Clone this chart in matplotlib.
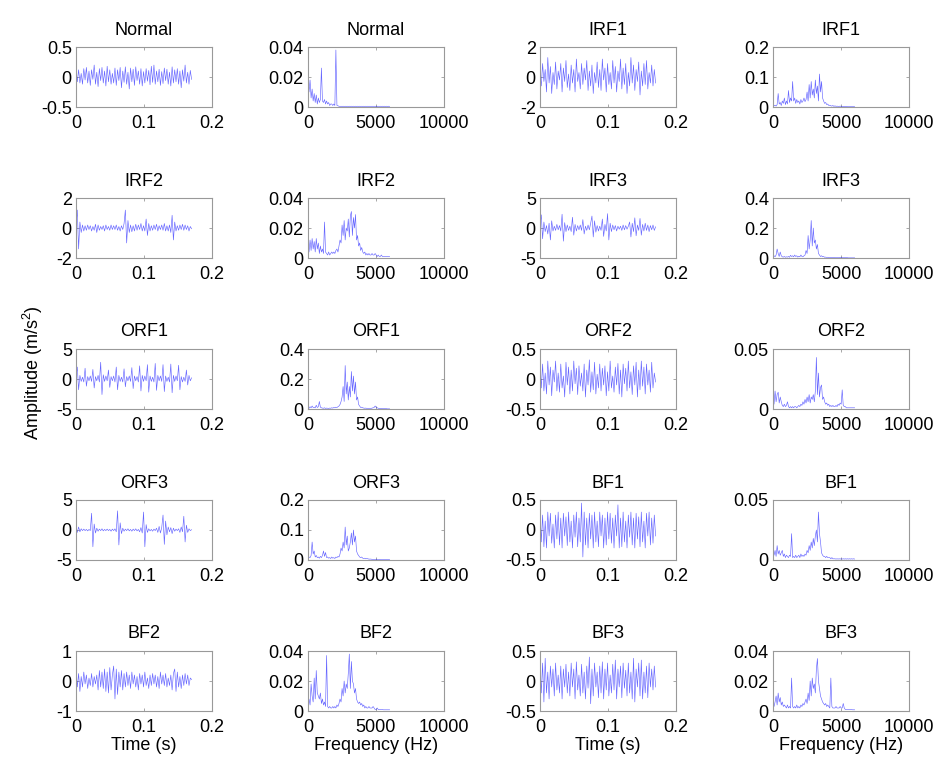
import numpy as np
import matplotlib
matplotlib.use("Agg")
import matplotlib.pyplot as plt
from matplotlib.ticker import FormatStrFormatter

plt.rcParams['font.family'] = ['Liberation Sans', 'DejaVu Sans']
plt.rcParams['mathtext.fontset'] = 'custom'
plt.rcParams['mathtext.rm'] = 'Liberation Sans'
plt.rcParams['axes.unicode_minus'] = False

# record length and spectrum band shown
t_end = 0.17
f_end = 6000

# --- time-domain signals (m/s^2) ---
normal_time = [0.10,-0.08,0.12,-0.10,0.06,-0.12,0.14,-0.05,0.16,-0.10,0.10,-0.14,0.12,-0.04,0.20,-0.12,0.08,-0.16,0.14,-0.06,
               0.16,-0.10,0.10,-0.15,0.18,-0.08,0.12,-0.12,0.06,-0.10,0.15,-0.14,0.12,-0.06,0.16,-0.18,0.10,-0.09,0.17,-0.12,
               0.08,-0.20,0.15,-0.08,0.13,-0.14,0.17,-0.06,0.10,-0.12,0.14,-0.15,0.09,-0.10,0.14,-0.07,0.11,-0.13,0.18,-0.09,
               0.20,-0.12,0.10,-0.08,0.13,-0.14,0.09,-0.11,0.15,-0.06,0.13,-0.12,0.08,-0.15,0.17,-0.10,0.12,-0.08,0.14,-0.12,
               0.10,-0.18,0.12,-0.07,0.20,-0.10,0.08,-0.12,0.11,-0.04]
irf1_time = [0.2,-0.6,0.9,-0.3,0.5,-1.0,1.3,-0.4,0.7,-1.1,0.3,-0.5,1.0,-0.8,0.4,-0.2,0.9,-1.0,0.6,-0.3,
             1.1,-0.7,0.2,-0.9,0.8,-0.4,0.5,-1.0,1.2,-0.3,0.3,-0.8,0.9,-0.5,0.6,-0.2,1.1,-0.9,0.4,-0.6,
             0.8,-1.1,0.3,-0.4,1.0,-0.7,0.5,-0.9,1.2,-0.2,0.6,-1.0,0.9,-0.5,0.3,-0.8,1.1,-0.4,0.7,-1.0,
             0.4,-0.3,1.2,-0.8,0.6,-0.5,0.9,-1.1,0.3,-0.6,1.3,-0.4,0.8,-0.9,0.5,-0.3,1.0,-1.2,0.4,-0.6,
             0.9,-0.5,1.1,-0.8,0.3,-0.4,0.8,-0.6,0.5,-0.4]
irf2_time = [0.1,1.2,-1.4,0.4,-0.3,0.2,-0.2,0.15,-0.15,0.2,-0.1,0.15,-0.2,0.1,-0.15,0.25,-0.3,0.2,-0.15,0.1,
             -0.1,0.15,-0.2,0.2,-0.1,0.1,-0.15,0.2,-0.1,0.15,-0.1,0.2,-0.15,0.1,-0.2,0.15,-0.1,0.3,1.2,-1.0,
             0.5,-0.3,0.2,-0.25,0.15,-0.2,0.25,-0.15,0.2,-0.1,0.3,-0.2,0.15,-0.2,0.6,-0.5,0.3,-0.2,0.15,-0.15,
             0.2,-0.1,0.25,-0.2,0.15,-0.1,0.2,-0.15,0.3,-0.2,0.15,-0.2,0.2,-0.3,0.85,-0.8,0.4,-0.2,0.15,-0.15,
             0.2,-0.1,0.25,-0.15,0.2,-0.1,0.15,-0.2,0.1,-0.05]
irf3_time = [0.3,2.2,-1.8,1.0,-0.6,0.4,-1.0,0.8,-2.0,1.2,-0.5,0.3,-0.4,0.6,-0.3,0.4,-0.5,2.3,-2.2,0.9,
             -0.6,0.5,-0.4,0.3,-0.6,1.8,-1.2,0.6,-0.5,0.4,-0.3,0.5,-0.4,1.4,-1.0,0.3,-0.4,0.5,-0.3,0.8,
             2.0,-1.5,1.2,-0.7,0.4,-0.5,0.3,-0.4,1.5,-1.4,0.6,-0.5,2.4,-2.0,0.8,-0.6,0.5,-0.3,0.4,-0.5,
             0.3,-0.2,0.3,-0.4,0.5,-0.3,0.4,-0.2,0.3,1.0,-1.5,0.8,-0.6,1.7,-1.3,0.5,-0.4,1.6,-1.2,0.6,
             -0.5,0.8,-0.4,0.5,-0.6,0.4,-0.3,0.5,-0.4,0.2]
orf1_time = [0.3,2.0,-1.8,0.6,-0.4,0.3,-0.5,1.8,-1.2,0.4,-0.3,0.5,-0.4,1.6,-1.5,0.4,-0.3,0.6,-0.5,2.8,
             -2.6,0.7,-0.4,0.5,-0.3,1.5,-1.4,0.4,-0.3,0.5,-0.5,2.0,-1.8,0.6,-0.4,0.3,-0.5,1.7,-1.3,0.4,
             -0.3,0.5,-0.4,1.9,-1.6,0.5,-0.3,0.4,-0.5,2.2,-2.0,0.6,-0.4,0.5,-0.3,2.4,-2.2,0.5,-0.4,0.3,
             -0.5,2.6,-1.9,0.6,-0.3,0.5,-0.4,2.4,-2.1,0.5,-0.4,0.3,-0.5,2.5,-2.3,0.6,-0.4,0.5,-0.3,2.3,
             -1.8,0.4,-0.5,0.3,-0.4,1.5,-1.0,0.6,-0.3,0.2]
orf2_time = [0.2,-0.15,0.25,-0.2,0.1,-0.25,0.3,-0.1,0.2,-0.28,0.15,-0.05,0.3,-0.2,0.1,-0.22,0.25,-0.15,0.05,-0.3,
             0.28,-0.1,0.2,-0.25,0.15,-0.2,0.3,-0.08,0.18,-0.26,0.22,-0.12,0.1,-0.2,0.25,-0.3,0.15,-0.1,0.32,-0.22,
             0.12,-0.18,0.28,-0.25,0.08,-0.15,0.25,-0.2,0.18,-0.1,0.22,-0.28,0.12,-0.2,0.3,-0.15,0.05,-0.22,0.2,-0.1,
             0.26,-0.25,0.15,-0.3,0.25,-0.08,0.18,-0.2,0.3,-0.15,0.12,-0.26,0.22,-0.1,0.28,-0.3,0.15,-0.18,0.3,-0.12,
             0.2,-0.25,0.25,-0.1,0.15,-0.22,0.28,-0.15,0.1,-0.05]
orf3_time = [0.1,-0.4,0.5,-0.3,0.2,-0.1,0.15,-0.1,0.1,-0.15,0.1,-0.1,2.8,-2.8,1.0,-0.5,0.3,-0.2,0.15,-0.1,
             0.2,-0.15,0.1,-0.1,0.15,-0.1,0.1,-0.2,0.15,-0.1,0.2,-0.3,3.2,-2.5,1.2,-0.6,0.3,-0.2,0.15,-0.1,
             0.2,-0.15,0.1,-0.2,0.15,-0.1,0.2,-0.15,0.1,-0.3,0.4,-0.5,3.0,-2.8,0.9,-0.4,0.2,-0.15,0.1,-0.2,
             0.15,-0.1,0.3,-0.4,0.6,-0.5,0.4,2.5,-2.4,1.5,-0.8,0.5,-0.3,0.4,-0.6,0.3,-0.2,0.15,-0.1,0.2,
             -0.4,0.5,-0.3,2.3,-2.0,0.8,-0.4,0.2,-0.1,0.05]
bf1_time = [0.3,-0.2,0.25,-0.28,0.15,-0.3,0.3,-0.1,0.28,-0.22,0.1,-0.3,0.25,-0.15,0.3,-0.25,0.2,-0.3,0.28,-0.1,
            0.22,-0.26,0.3,-0.2,0.15,-0.3,0.25,-0.12,0.3,-0.28,0.2,-0.2,0.45,-0.45,0.3,-0.25,0.2,-0.3,0.28,-0.15,
            0.25,-0.3,0.3,-0.2,0.15,-0.28,0.3,-0.1,0.25,-0.3,0.2,-0.25,0.3,-0.15,0.28,-0.22,0.2,-0.3,0.25,-0.1,
            0.42,-0.3,0.2,-0.28,0.3,-0.2,0.15,-0.3,0.25,-0.12,0.3,-0.25,0.2,-0.3,0.28,-0.15,0.22,-0.28,0.3,-0.2,
            0.15,-0.3,0.28,-0.1,0.3,-0.25,0.2,-0.22,0.25,-0.1]
bf2_time = [0.3,-0.2,0.25,-0.35,0.15,-0.2,0.3,-0.1,0.2,-0.25,0.1,-0.15,0.25,-0.2,0.15,-0.1,0.2,-0.3,0.35,-0.2,
            0.3,-0.25,0.4,-0.35,0.3,-0.4,0.45,-0.3,0.2,0.5,-0.6,0.4,-0.45,0.3,-0.2,0.35,-0.3,0.25,-0.2,0.3,
            -0.15,0.2,-0.25,0.3,-0.1,0.2,-0.2,0.15,-0.3,0.25,-0.1,0.2,-0.2,0.3,-0.15,0.1,-0.25,0.2,-0.15,0.25,
            -0.1,0.2,-0.2,0.15,-0.25,0.3,-0.1,0.2,-0.15,0.25,-0.2,0.1,-0.15,0.2,-0.3,0.25,0.4,-0.35,0.3,-0.2,
            0.15,-0.25,0.2,-0.15,0.25,-0.1,0.2,-0.15,0.1,0.05]
bf3_time = [0.25,-0.2,0.3,-0.35,0.38,-0.2,0.15,-0.3,0.25,-0.1,0.2,-0.25,0.3,-0.15,0.1,-0.2,0.25,-0.3,0.2,-0.1,
            0.28,-0.2,0.15,-0.25,0.3,-0.1,0.2,-0.3,0.32,-0.15,0.1,-0.25,0.28,-0.2,0.15,-0.3,0.25,-0.12,0.4,-0.38,
            0.2,-0.25,0.3,-0.1,0.15,-0.28,0.25,-0.2,0.32,-0.3,0.2,-0.15,0.3,-0.25,0.1,-0.2,0.28,-0.15,0.35,-0.3,
            0.2,-0.1,0.25,-0.28,0.3,-0.12,0.18,-0.25,0.3,-0.2,0.15,-0.3,0.38,-0.35,0.2,-0.1,0.3,-0.25,0.35,-0.3,
            0.15,-0.2,0.25,-0.28,0.3,-0.1,0.2,-0.15,0.25,-0.1]

# --- amplitude spectra, 0 .. f_end Hz ---
normal_spec = [0.020,0.010,0.018,0.006,0.012,0.004,0.009,0.003,0.008,0.002,
               0.006,0.003,0.005,0.026,0.004,0.003,0.005,0.002,0.004,0.002,
               0.003,0.001,0.002,0.002,0.001,0.002,0.001,0.038,0.001,0.0008,
               0.0005,0.0004,0.0005,0.0004,0.0005,0.0004,0.0005,0.0004,0.0005,0.0004,
               0.0005,0.0004,0.0005,0.0004,0.0005,0.0004,0.0005,0.0004,0.0005,0.0004,
               0.0005,0.0004,0.0005,0.0004,0.0005,0.0004,0.0005,0.0004,0.0005,0.0004,
               0.0005,0.0004,0.0005,0.0004,0.0005,0.0004,0.0005,0.0004,0.0005,0.0004,
               0.0005,0.0004,0.0005,0.0004,0.0005,0.0004,0.0005,0.0004,0.0005,0.0004]
irf1_spec = [0.010,0.004,0.006,0.003,0.008,0.045,0.010,0.015,0.005,0.020,
             0.012,0.030,0.008,0.020,0.010,0.055,0.015,0.030,0.020,0.085,
             0.020,0.030,0.012,0.025,0.015,0.020,0.010,0.025,0.015,0.020,
             0.030,0.018,0.025,0.050,0.020,0.075,0.030,0.085,0.040,0.060,
             0.030,0.090,0.045,0.070,0.020,0.110,0.050,0.085,0.030,0.020,
             0.012,0.015,0.008,0.010,0.005,0.006,0.004,0.003,0.005,0.002,
             0.004,0.002,0.003,0.002,0.002,0.003,0.002,0.002,0.001,0.002,
             0.001,0.002,0.001,0.001,0.001,0.001,0.001,0.001,0.001,0.001]
irf2_spec = [0.010,0.004,0.012,0.005,0.013,0.006,0.011,0.004,0.013,0.006,
             0.010,0.003,0.008,0.004,0.006,0.003,0.024,0.004,0.003,0.002,
             0.004,0.002,0.003,0.004,0.003,0.004,0.003,0.005,0.006,0.004,
             0.008,0.012,0.010,0.022,0.015,0.025,0.012,0.020,0.018,0.026,
             0.014,0.028,0.031,0.015,0.027,0.020,0.029,0.012,0.015,0.008,
             0.010,0.005,0.007,0.004,0.003,0.004,0.002,0.003,0.002,0.003,
             0.002,0.002,0.003,0.002,0.002,0.003,0.002,0.001,0.002,0.001,
             0.001,0.002,0.001,0.001,0.001,0.001,0.001,0.001,0.001,0.001]
irf3_spec = [0.010,0.015,0.008,0.020,0.060,0.030,0.010,0.040,0.015,0.008,
             0.006,0.010,0.005,0.008,0.006,0.010,0.005,0.018,0.010,0.015,
             0.008,0.020,0.010,0.015,0.006,0.012,0.008,0.020,0.010,0.008,
             0.015,0.020,0.050,0.030,0.150,0.060,0.120,0.250,0.080,0.200,
             0.100,0.120,0.060,0.090,0.030,0.020,0.010,0.015,0.008,0.010,
             0.005,0.006,0.004,0.005,0.003,0.004,0.003,0.003,0.002,0.003,
             0.002,0.002,0.002,0.002,0.002,0.003,0.002,0.002,0.002,0.002,
             0.002,0.002,0.002,0.001,0.001,0.001,0.001,0.001,0.001,0.001]
orf1_spec = [0.010,0.005,0.015,0.008,0.020,0.010,0.012,0.008,0.025,0.010,
             0.015,0.050,0.012,0.008,0.006,0.005,0.008,0.004,0.006,0.005,
             0.004,0.006,0.005,0.008,0.006,0.010,0.008,0.012,0.010,0.015,
             0.020,0.030,0.050,0.080,0.150,0.050,0.290,0.100,0.180,0.060,
             0.150,0.080,0.250,0.120,0.220,0.100,0.180,0.060,0.080,0.030,
             0.020,0.010,0.012,0.008,0.006,0.005,0.006,0.004,0.005,0.004,
             0.005,0.004,0.006,0.008,0.010,0.020,0.012,0.008,0.005,0.004,
             0.003,0.003,0.002,0.002,0.002,0.002,0.002,0.001,0.001,0.001]
orf2_spec = [0.013,0.004,0.015,0.006,0.012,0.014,0.005,0.010,0.006,0.003,
             0.002,0.004,0.002,0.003,0.006,0.002,0.001,0.002,0.001,0.002,
             0.001,0.002,0.002,0.001,0.002,0.003,0.002,0.004,0.003,0.006,
             0.004,0.008,0.005,0.010,0.006,0.012,0.005,0.010,0.008,0.012,
             0.006,0.015,0.043,0.012,0.030,0.010,0.018,0.020,0.008,0.010,
             0.006,0.004,0.005,0.003,0.004,0.002,0.003,0.002,0.003,0.002,
             0.002,0.003,0.002,0.004,0.003,0.005,0.004,0.016,0.003,0.002,
             0.002,0.001,0.001,0.001,0.001,0.001,0.001,0.001,0.001,0.001]
orf3_spec = [0.005,0.010,0.008,0.015,0.060,0.020,0.030,0.010,0.015,0.008,
             0.010,0.006,0.012,0.008,0.015,0.030,0.012,0.025,0.008,0.010,
             0.006,0.008,0.005,0.010,0.006,0.008,0.005,0.010,0.008,0.012,
             0.010,0.020,0.040,0.030,0.060,0.040,0.110,0.050,0.080,0.030,
             0.040,0.060,0.090,0.050,0.100,0.060,0.080,0.030,0.020,0.015,
             0.010,0.008,0.010,0.006,0.005,0.006,0.004,0.005,0.004,0.003,
             0.003,0.003,0.002,0.002,0.002,0.002,0.002,0.002,0.002,0.002,
             0.001,0.001,0.001,0.001,0.001,0.001,0.001,0.001,0.001,0.001]
bf1_spec = [0.010,0.004,0.008,0.003,0.012,0.005,0.008,0.004,0.006,0.008,
            0.003,0.005,0.002,0.004,0.003,0.002,0.004,0.003,0.022,0.002,
            0.003,0.002,0.004,0.002,0.003,0.004,0.002,0.005,0.003,0.004,
            0.003,0.005,0.004,0.008,0.006,0.012,0.008,0.015,0.010,0.018,
            0.012,0.020,0.025,0.015,0.040,0.022,0.015,0.006,0.004,0.003,
            0.003,0.002,0.003,0.002,0.002,0.002,0.001,0.002,0.001,0.001,
            0.001,0.0008,0.001,0.0008,0.001,0.0008,0.001,0.0008,0.001,0.0008,
            0.001,0.0008,0.001,0.0008,0.001,0.0008,0.001,0.0008,0.001,0.0008]
bf2_spec = [0.005,0.008,0.004,0.018,0.010,0.006,0.022,0.008,0.027,0.012,
            0.010,0.008,0.012,0.005,0.008,0.004,0.006,0.003,0.037,0.003,
            0.002,0.003,0.002,0.002,0.003,0.002,0.003,0.002,0.004,0.003,
            0.005,0.008,0.006,0.015,0.010,0.020,0.012,0.018,0.015,0.025,
            0.038,0.015,0.033,0.020,0.018,0.012,0.015,0.008,0.006,0.005,
            0.006,0.004,0.005,0.003,0.004,0.002,0.003,0.002,0.002,0.003,
            0.002,0.002,0.002,0.003,0.002,0.001,0.001,0.002,0.001,0.001,
            0.001,0.001,0.001,0.0008,0.0008,0.0008,0.0008,0.0008,0.0008,0.0008]
bf3_spec = [0.005,0.003,0.006,0.010,0.004,0.012,0.006,0.009,0.004,0.006,
            0.003,0.004,0.003,0.002,0.004,0.002,0.003,0.002,0.022,0.003,
            0.002,0.003,0.002,0.004,0.002,0.003,0.002,0.004,0.003,0.005,
            0.004,0.006,0.008,0.005,0.012,0.007,0.020,0.010,0.022,0.015,
            0.018,0.012,0.028,0.035,0.020,0.015,0.010,0.008,0.006,0.005,
            0.004,0.005,0.003,0.004,0.003,0.002,0.022,0.003,0.002,0.002,
            0.002,0.003,0.002,0.002,0.002,0.003,0.002,0.002,0.005,0.002,
            0.001,0.001,0.001,0.001,0.001,0.001,0.001,0.0008,0.0008,0.0008]

labels = ["Normal", "IRF1", "IRF2", "IRF3", "ORF1", "ORF2", "ORF3", "BF1", "BF2", "BF3"]
time_sigs = [normal_time, irf1_time, irf2_time, irf3_time, orf1_time,
             orf2_time, orf3_time, bf1_time, bf2_time, bf3_time]
specs = [normal_spec, irf1_spec, irf2_spec, irf3_spec, orf1_spec,
         orf2_spec, orf3_spec, bf1_spec, bf2_spec, bf3_spec]
time_lim = [0.5, 2, 2, 5, 5, 0.5, 5, 0.5, 1, 0.5]
spec_lim = [0.04, 0.2, 0.04, 0.4, 0.4, 0.05, 0.2, 0.05, 0.04, 0.04]

W, H = 940, 762
fig = plt.figure(figsize=(W / 100, H / 100), dpi=100)
col_left = [76, 308, 540, 773]
row_top = [47, 198, 349, 500, 651]
aw, ah = 136, 60
grey = "#999999"


def style(ax, title):
    for s in ax.spines.values():
        s.set_color(grey)
        s.set_linewidth(0.8)
    ax.tick_params(direction="in", length=2.5, width=0.6, color=grey,
                   top=True, right=True, labelsize=13)
    ax.tick_params(axis="x", pad=5.5)
    ax.tick_params(axis="y", pad=3)
    ax.set_title(title, fontsize=13, pad=9)
    ax.xaxis.set_major_formatter(FormatStrFormatter("%g"))
    ax.yaxis.set_major_formatter(FormatStrFormatter("%g"))


for k, name in enumerate(labels):
    r, c = k // 2, (k % 2) * 2
    # time waveform
    ax = fig.add_axes([col_left[c] / W, 1 - (row_top[r] + ah) / H, aw / W, ah / H])
    y = time_sigs[k]
    t = np.linspace(0, t_end, len(y))
    ax.plot(t, y, color="blue", lw=0.45, alpha=0.6)
    ax.set_xlim(0, 0.2)
    ax.set_ylim(-time_lim[k], time_lim[k])
    ax.set_xticks([0, 0.1, 0.2])
    ax.set_yticks([-time_lim[k], 0, time_lim[k]])
    style(ax, name)
    if r == 4:
        ax.set_xlabel("Time (s)", fontsize=13, labelpad=1)

    # spectrum
    ax = fig.add_axes([col_left[c + 1] / W, 1 - (row_top[r] + ah) / H, aw / W, ah / H])
    a = specs[k]
    f = np.linspace(0, f_end, len(a))
    ax.plot(f, a, color="blue", lw=0.45, alpha=0.6)
    ax.set_xlim(0, 10000)
    ax.set_ylim(0, spec_lim[k])
    ax.set_xticks([0, 5000, 10000])
    if spec_lim[k] == 0.05:
        ax.set_yticks([0, 0.05])
    else:
        ax.set_yticks([0, spec_lim[k] / 2, spec_lim[k]])
    style(ax, name)
    if r == 4:
        ax.set_xlabel("Frequency (Hz)", fontsize=13, labelpad=1)

fig.text(33 / W, 1 - 373 / H, r"Amplitude (m/s$^\mathregular{2}$)",
         rotation=90, ha="center", va="center", fontsize=13)

fig.savefig("out.png", dpi=100)
